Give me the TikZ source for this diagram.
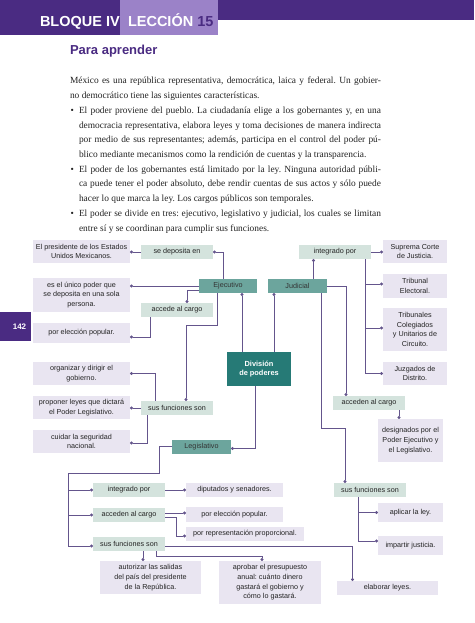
\documentclass[tikz,border=0pt]{standalone}
\usepackage{fontspec}
\setmainfont{Liberation Serif}
\setsansfont{Liberation Sans}
\usetikzlibrary{arrows.meta}
\frenchspacing

\definecolor{bandpurple}{RGB}{74,43,130}
\definecolor{lightpurple}{RGB}{155,130,200}
\definecolor{leafcol}{RGB}{233,229,241}
\definecolor{relcol}{RGB}{212,227,221}
\definecolor{powcol}{RGB}{108,165,157}
\definecolor{divcol}{RGB}{38,122,118}
\definecolor{linecol}{RGB}{100,85,140}
\definecolor{bodycol}{RGB}{35,35,35}

\begin{document}
\begin{tikzpicture}[x=1pt, y=-1pt,
  every node/.style={inner sep=0pt, outer sep=0pt},
  headtext/.style={anchor=base west, font=\sffamily\bfseries\fontsize{14.5}{14.5}\selectfont},
  bodytext/.style={anchor=base west, text=bodycol, font=\fontsize{9.4}{14.7}\selectfont},
  cbox/.style={align=center, text=bodycol, font=\sffamily\fontsize{7.2}{9.7}\selectfont},
  leafbox/.style 2 args={cbox, fill=leafcol, minimum width=#1, minimum height=#2},
  relbox/.style={cbox, fill=relcol, minimum width=72pt, minimum height=14pt},
  powerbox/.style={cbox, fill=powcol, text=black!80, minimum width=59pt, minimum height=14pt},
  wire/.style={draw=linecol, line width=0.8pt},
  link/.style={wire, -{Circle[length=3pt]}}]

\fill[white] (0,0) rectangle (474,623);
\useasboundingbox (0,0) rectangle (474,623);

% header
\fill[bandpurple] (0,0) rectangle (120,35);
\fill[bandpurple] (218,0) rectangle (474,20);
\fill[lightpurple] (120,0) rectangle (218,35);
\node[headtext, text=white] (bloque) at (40,27) {BLOQUE IV};
\node[headtext, text=white] (leccion) at (128,27) {LECCIÓN \textcolor{bandpurple}{15}};
\node[anchor=base west, text=bandpurple, font=\sffamily\bfseries\fontsize{13}{13}\selectfont] (titulo) at (70,55) {Para aprender};

% page number
\fill[bandpurple] (0,312) rectangle (31,341);
\node[text=white, font=\sffamily\bfseries\fontsize{8}{8}\selectfont] (pagina) at (19.5,326.5) {142};

% text
\node[bodytext] (l0) at (70,84) {\makebox[311pt][s]{México es una república representativa, democrática, laica y federal. Un gobier-}};
\node[bodytext] (l1) at (70,98.7) {no democrático tiene las siguientes características.};
\node[bodytext] (b1) at (70.5,113.4) {\textbullet};
\node[bodytext] (l2) at (79,113.4) {\makebox[302pt][s]{El poder proviene del pueblo. La ciudadanía elige a los gobernantes y, en una}};
\node[bodytext] (l3) at (79,128.1) {\makebox[302pt][s]{democracia representativa, elabora leyes y toma decisiones de manera indirecta}};
\node[bodytext] (l4) at (79,142.8) {\makebox[302pt][s]{por medio de sus representantes; además, participa en el control del poder pú-}};
\node[bodytext] (l5) at (79,157.5) {blico mediante mecanismos como la rendición de cuentas y la transparencia.};
\node[bodytext] (b2) at (70.5,172.2) {\textbullet};
\node[bodytext] (l6) at (79,172.2) {\makebox[302pt][s]{El poder de los gobernantes está limitado por la ley. Ninguna autoridad públi-}};
\node[bodytext] (l7) at (79,186.9) {\makebox[302pt][s]{ca puede tener el poder absoluto, debe rendir cuentas de sus actos y sólo puede}};
\node[bodytext] (l8) at (79,201.6) {hacer lo que marca la ley. Los cargos públicos son temporales.};
\node[bodytext] (b3) at (70.5,216.3) {\textbullet};
\node[bodytext] (l9) at (79,216.3) {\makebox[302pt][s]{El poder se divide en tres: ejecutivo, legislativo y judicial, los cuales se limitan}};
\node[bodytext] (l10) at (79,231) {entre sí y se coordinan para cumplir sus funciones.};

% ejecutivo
\node[leafbox={97pt}{23pt}] (pres) at (81.5,251.5) {El presidente de los Estados\\Unidos Mexicanos.};
\node[leafbox={97pt}{34pt}] (unico) at (81.5,295) {es el único poder que\\se deposita en una sola\\persona.};
\node[leafbox={97pt}{20pt}] (elecE) at (81.5,333) {por elección popular.};
\node[leafbox={97pt}{23pt}] (organ) at (81.5,373.5) {organizar y dirigir el\\gobierno.};
\node[leafbox={97pt}{23pt}] (prop) at (81.5,407.5) {proponer leyes que dictará\\el Poder Legislativo.};
\node[leafbox={97pt}{23pt}] (cuid) at (81.5,441.5) {cuidar la seguridad\\nacional.};
\node[relbox] (sdep) at (177,252) {se deposita en};
\node[relbox] (accE) at (177,310) {accede al cargo};
\node[relbox] (funE) at (177,408) {sus funciones son};
\node[powerbox, minimum width=58pt] (ejec) at (228,286) {Ejecutivo};

% judicial
\node[powerbox] (judi) at (297.5,286) {Judicial};
\node[relbox] (intJ) at (335,252) {integrado por};
\node[leafbox={64pt}{23pt}] (supr) at (415,251.5) {Suprema Corte\\de Justicia.};
\node[leafbox={64pt}{24pt}] (trib) at (415,286) {Tribunal\\Electoral.};
\node[leafbox={64pt}{43pt}] (colg) at (415,329.5) {Tribunales\\Colegiados\\y Unitarios de\\Circuito.};
\node[leafbox={64pt}{23pt}] (juzg) at (415,373.5) {Juzgados de\\Distrito.};
\node[relbox] (accJ) at (369,403) {acceden al cargo};
\node[leafbox={65pt}{43pt}] (desg) at (410.5,440.5) {designados por el\\Poder Ejecutivo y\\el Legislativo.};
\node[relbox] (funJ) at (370,490) {sus funciones son};
\node[leafbox={65pt}{19pt}] (aplic) at (410.5,512.5) {aplicar la ley.};
\node[leafbox={65pt}{19pt}] (impar) at (410.5,545.5) {impartir justicia.};

% division
\node[align=center, fill=divcol, text=white, font=\sffamily\bfseries\fontsize{7.4}{9.8}\selectfont, minimum width=64pt, minimum height=34pt] (divi) at (259,369) {División\\de poderes};

% legislativo
\node[powerbox] (legi) at (201.5,446.5) {Legislativo};
\node[relbox] (intL) at (129,490) {integrado por};
\node[relbox] (accL) at (129,515) {acceden al cargo};
\node[relbox] (funL) at (129,544) {sus funciones son};
\node[leafbox={97pt}{14pt}] (dip) at (234.5,490) {diputados y senadores.};
\node[leafbox={97pt}{15pt}] (elecL) at (234.5,514.5) {por elección popular.};
\node[leafbox={118pt}{14pt}] (repr) at (245,534) {por representación proporcional.};
\node[leafbox={101pt}{33pt}] (autor) at (150.5,577.5) {autorizar las salidas\\del país del presidente\\de la República.};
\node[leafbox={102pt}{43pt}] (aprob) at (270,582.5) {aprobar el presupuesto\\anual: cuánto dinero\\gastará el gobierno y\\cómo lo gastará.};
\node[leafbox={101pt}{14pt}] (elab) at (387.5,588) {elaborar leyes.};
\coordinate (busL) at (68,473);

% connectors
\draw[link] ([xshift=-5pt]ejec.north) |- (sdep.east);
\draw[link] (sdep.west) -- (sdep.west -| pres.east);
\draw[link] (ejec.west) -- (ejec.west -| unico.east);
\draw[link] ([yshift=-4pt]ejec.west) -| ([xshift=10pt]accE.north);
\draw[link] ([xshift=-27pt]accE.south) |- ([yshift=-4pt]elecE.east);
\draw[link] ([xshift=-11pt]ejec.south) -- ++(0,32) -| ([xshift=9pt]funE.north);
\draw[link] ([xshift=-22pt]funE.north) |- (organ.east);
\draw[link] (funE.west) -- (funE.west -| prop.east);
\draw[link] ([xshift=-30pt]funE.south) |- ([yshift=-1.5pt]cuid.east);

\draw[link] ([xshift=-17pt]divi.north) -- ([xshift=-17pt]divi.north |- ejec.south);
\draw[link] ([xshift=15pt]divi.north) -- ([xshift=15pt]divi.north |- judi.south);
\draw[link] ([xshift=-4pt]divi.south) |- ([yshift=-2pt]legi.east);

\draw[link] ([xshift=16pt]judi.north) -- ([xshift=16pt]judi.north |- intJ.south);
\draw[link] (intJ.east) -- (intJ.east -| supr.west);
\draw[link] ([xshift=30pt]intJ.south) |- ([yshift=2pt]trib.west);
\draw[link] ([xshift=30pt]intJ.south) |- ([yshift=1.5pt]colg.west);
\draw[link] ([xshift=30pt]intJ.south) |- (juzg.west);
\draw[link] (judi.east) -| ([xshift=-23pt]accJ.north);
\draw[link] ([xshift=30pt]accJ.south) -- ([xshift=30pt]accJ.south |- desg.north);
\draw[link] ([xshift=23.5pt]judi.south) -- ++(0,135) -| ([xshift=-25pt]funJ.north);
\draw[link] ([xshift=-12pt]funJ.south) |- (aplic.west);
\draw[link] ([xshift=-12pt]funJ.south) |- ([yshift=4.5pt]impar.west);

\draw[wire] (legi.west) -- ++(-13,0) |- (busL);
\draw[link] (busL) |- (intL.west);
\draw[link] (busL) |- (accL.west);
\draw[link] (busL) |- ([yshift=-2pt]funL.west);
\draw[link] (intL.east) -- (intL.east -| dip.west);
\draw[link] ([yshift=2pt]accL.east) -- ([yshift=2pt]accL.east -| elecL.west);
\draw[link] ([yshift=-2pt]accL.east) -- ++(11,0) |- ([yshift=-2pt]repr.west);
\draw[link] ([yshift=-2pt]funL.east) -| ([xshift=-35pt]elab.north);
\draw[link] ([xshift=27pt]funL.south) -- ++(0,5) -| ([xshift=-8pt]aprob.north);
\draw[link] ([xshift=14pt]funL.south) -- ([xshift=14pt]funL.south |- autor.north);

\end{tikzpicture}
\end{document}
